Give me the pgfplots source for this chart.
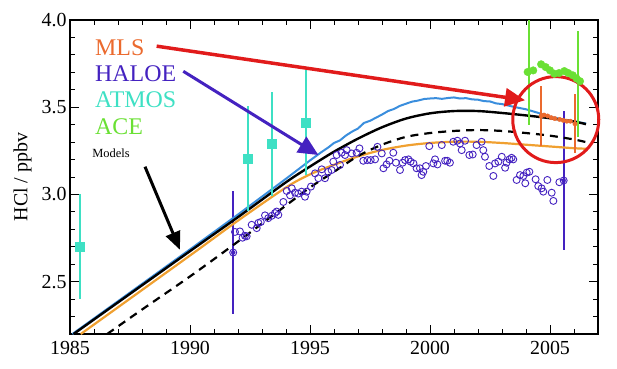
\documentclass[border=0pt]{standalone}
\usepackage{fontspec}
\setmainfont{Liberation Serif}
\usepackage{pgfplots}
\pgfplotsset{compat=1.18}
\usetikzlibrary{arrows.meta}

\definecolor{mlsc}{HTML}{EB6A2E}
\definecolor{haloec}{HTML}{4422C0}
\definecolor{atmosc}{HTML}{3EE0C4}
\definecolor{acec}{HTML}{6AE034}
\definecolor{bluec}{HTML}{3A8EDD}
\definecolor{orangec}{HTML}{F0A030}
\definecolor{redc}{HTML}{E11B1B}

\begin{document}
\begin{tikzpicture}
\useasboundingbox (0,0) rectangle (617bp,369bp);
\begin{axis}[
    at={(70bp,35bp)}, anchor=south west,
    scale only axis, width=528bp, height=314bp,
    xmin=1985, xmax=2007, ymin=2.2, ymax=4.0,
    xtick={1985,1990,1995,2000,2005},
    minor xtick={1986,1987,1988,1989,1991,1992,1993,1994,1996,1997,1998,1999,2001,2002,2003,2004,2006},
    ytick={2.5,3.0,3.5,4.0},
    minor ytick={2.3,2.4,2.6,2.7,2.8,2.9,3.1,3.2,3.3,3.4,3.6,3.7,3.8,3.9},
    tick align=inside,
    major tick length=9bp, minor tick length=5bp,
    tick style={line width=0.9bp, black},
    axis line style={line width=1.1bp},
    /pgf/number format/assume math mode=true,
    tick label style={font=\fontsize{20}{22}\selectfont},
    xticklabel style={/pgf/number format/1000 sep={}, yshift=-4bp},
    yticklabel style={/pgf/number format/.cd, fixed, fixed zerofill, precision=1},
    ylabel={HCl / ppbv},
    ylabel style={font=\fontsize{20}{22}\selectfont, yshift=3bp},
    clip=false,
]
% HALOE
\addplot[only marks, mark=o, mark size=3.5bp, haloec, mark options={line width=0.9bp}] coordinates {
(1991.8,2.667) (1991.875,2.785) (1992.08,2.788) (1992.19,2.752) (1992.29,2.763) (1992.36,2.76)
(1992.57,2.826) (1992.78,2.807) (1992.85,2.837) (1992.95,2.842) (1993.125,2.88) (1993.26,2.864)
(1993.40,2.877) (1993.54,2.893) (1993.61,2.902) (1993.68,2.883) (1993.89,2.957) (1994.03,3.02)
(1994.17,2.995) (1994.24,3.035) (1994.375,3.01) (1994.51,3.005) (1994.65,3.016) (1994.79,2.987)
(1994.86,3.016) (1995.04,3.045) (1995.21,3.121) (1995.35,3.093) (1995.49,3.144) (1995.625,3.093)
(1995.76,3.13) (1995.90,3.14) (1995.97,3.188) (1996.11,3.226) (1996.25,3.169) (1996.32,3.239)
(1996.46,3.226) (1996.53,3.254) (1996.74,3.235) (1996.94,3.239) (1997.06,3.264) (1997.22,3.193)
(1997.39,3.197) (1997.53,3.197) (1997.71,3.201) (1997.81,3.273) (1997.99,3.235) (1998.06,3.150)
(1998.19,3.172) (1998.31,3.193) (1998.47,3.239) (1998.58,3.182) (1998.75,3.140) (1998.86,3.182)
(1998.96,3.197) (1999.10,3.201) (1999.19,3.188) (1999.31,3.178) (1999.44,3.150) (1999.58,3.150)
(1999.65,3.111) (1999.72,3.130) (1999.83,3.163) (1999.97,3.277) (2000.14,3.178) (2000.21,3.201)
(2000.31,3.172) (2000.49,3.283) (2000.63,3.193) (2000.72,3.193) (2000.83,3.182) (2000.97,3.302)
(2001.14,3.308) (2001.25,3.292) (2001.32,3.254) (2001.46,3.308) (2001.64,3.226) (2001.78,3.229)
(2001.94,3.283) (2002.15,3.302) (2002.22,3.254) (2002.29,3.216) (2002.47,3.163) (2002.64,3.106)
(2002.71,3.178) (2002.85,3.188) (2002.99,3.216) (2003.13,3.153) (2003.19,3.182) (2003.31,3.201)
(2003.40,3.210) (2003.47,3.201) (2003.61,3.083) (2003.75,3.111) (2003.89,3.106) (2003.97,3.064)
(2004.03,3.125) (2004.14,3.130) (2004.40,3.087) (2004.51,3.048) (2004.65,3.035) (2004.72,3.016)
(2004.89,3.083) (2005.07,3.010) (2005.14,2.963) (2005.39,3.070) (2005.57,3.08)
};
\addplot[only marks, mark=none, haloec,
    error bars/.cd, y dir=both, y explicit, error mark=none,
    error bar style={line width=1.8bp, haloec}] coordinates {
(1991.8,2.667) +- (0,0.35)
(2005.57,3.08) +- (0,0.40)
};
% model curves
\addplot[no marks, line width=2bp, bluec] coordinates {
(1985.1,2.2) (1990,2.685) (1992,2.885) (1994,3.09) (1995,3.195) (1995.25,3.22) (1995.5,3.245)
(1995.75,3.268) (1996,3.295) (1996.25,3.31) (1996.5,3.338) (1996.75,3.36) (1997,3.378)
(1997.25,3.41) (1997.5,3.422) (1997.75,3.44) (1998,3.458) (1998.25,3.478) (1998.5,3.49)
(1998.75,3.508) (1999,3.52) (1999.25,3.532) (1999.5,3.538) (1999.75,3.547) (2000,3.55)
(2000.25,3.552) (2000.5,3.548) (2000.75,3.553) (2001,3.556) (2001.25,3.55) (2001.5,3.552)
(2001.75,3.545) (2002,3.543) (2002.25,3.535) (2002.5,3.533) (2002.75,3.522) (2003,3.518)
(2003.25,3.51) (2003.5,3.502) (2003.75,3.495) (2004,3.488) (2004.25,3.478) (2004.5,3.468)
(2004.75,3.455) (2005,3.446) (2005.25,3.438) (2005.5,3.43) (2005.75,3.425) (2006,3.418)
(2006.25,3.412) (2006.5,3.407)
};
\addplot[no marks, smooth, line width=2.2bp, orangec] coordinates {
(1985.45,2.2) (1990,2.65) (1992,2.85) (1994,3.04) (1995,3.115) (1996,3.17) (1997,3.218)
(1998,3.255) (1999,3.28) (2000,3.295) (2001,3.302) (2002,3.302) (2003,3.295) (2004,3.285)
(2005,3.275) (2006,3.265) (2006.5,3.262)
};
\addplot[no marks, smooth, line width=2.2bp, black, dash pattern=on 8bp off 6bp] coordinates {
(1986.55,2.2) (1988,2.34) (1990,2.53) (1992,2.73) (1994,2.937) (1995,3.04) (1996,3.13)
(1997,3.22) (1998,3.285) (1999,3.33) (2000,3.352) (2001,3.364) (2002,3.369) (2003,3.364)
(2004,3.352) (2005,3.337) (2006,3.315) (2006.5,3.30)
};
\addplot[no marks, smooth, line width=2.4bp, black] coordinates {
(1985.15,2.2) (1990,2.675) (1992,2.87) (1994,3.07) (1995,3.16) (1996,3.245) (1997,3.32)
(1998,3.385) (1999,3.435) (2000,3.465) (2001,3.478) (2002,3.478) (2003,3.467) (2004,3.453)
(2005,3.437) (2006,3.418) (2006.5,3.403)
};
% ATMOS
\addplot[only marks, mark=square*, mark size=4.5bp, atmosc,
    error bars/.cd, y dir=both, y explicit, error mark=none,
    error bar style={line width=2bp, atmosc}] coordinates {
(1985.42,2.70) +- (0,0.3)
(1992.4,3.207) +- (0,0.3)
(1993.4,3.289) +- (0,0.3)
(1994.82,3.414) +- (0,0.3)
};
% ACE
\addplot[only marks, mark=none, acec,
    error bars/.cd, y dir=both, y explicit, error mark=none,
    error bar style={line width=2bp, acec}] coordinates {
(2004.13,3.70) += (0,0.30) -= (0,0.30)
(2006.15,3.66) += (0,0.276) -= (0,0.33)
};
\addplot[only marks, mark=*, mark size=3.8bp, acec] coordinates {
(2004.07,3.702) (2004.3,3.711) (2004.63,3.746) (2004.82,3.73) (2005.0,3.711) (2005.18,3.692)
(2005.38,3.696) (2005.6,3.707) (2005.76,3.696) (2005.95,3.683) (2006.11,3.664) (2006.25,3.649)
};
% MLS
\addplot[only marks, mark=*, mark size=2.2bp, mlsc,
    error bars/.cd, y dir=both, y explicit, error mark=none,
    error bar style={line width=1.8bp, mlsc}] coordinates {
(2004.63,3.45) +- (0,0.17)
(2006.04,3.405) +- (0,0.17)
};
\addplot[only marks, mark=*, mark size=2.2bp, mlsc] coordinates {
(2004.75,3.455) (2004.9,3.45) (2005.05,3.44) (2005.2,3.435) (2005.4,3.43) (2005.55,3.425)
(2005.7,3.42) (2005.85,3.42)
};
% annotations
\draw[redc, line width=3bp] (axis cs:2005.24,3.429) circle[radius=43bp];
\draw[redc, line width=3.5bp, -{Triangle[length=20bp,width=18bp]}] (axis cs:1988.61,3.85) -- (axis cs:2003.96,3.54);
\draw[haloec, line width=3bp, -{Triangle[length=20bp,width=18bp]}] (axis cs:1989.72,3.706) -- (axis cs:1995.35,3.226);
\draw[black, line width=3bp, -{Triangle[length=18bp,width=15bp]}] (axis cs:1988.125,3.159) -- (axis cs:1989.58,2.683);
\node[anchor=west, text=mlsc, font=\fontsize{24}{26}\selectfont, inner sep=0pt] at (axis cs:1986.04,3.843) {MLS};
\node[anchor=west, text=haloec, font=\fontsize{24}{26}\selectfont, inner sep=0pt] at (axis cs:1986.04,3.694) {HALOE};
\node[anchor=west, text=atmosc, font=\fontsize{24}{26}\selectfont, inner sep=0pt] at (axis cs:1986.04,3.544) {ATMOS};
\node[anchor=west, text=acec, font=\fontsize{24}{26}\selectfont, inner sep=0pt] at (axis cs:1986.04,3.391) {ACE};
\node[anchor=west, font=\fontsize{12.5}{14}\selectfont, inner sep=0pt] at (axis cs:1985.92,3.235) {Models};
\end{axis}
\end{tikzpicture}
\end{document}
